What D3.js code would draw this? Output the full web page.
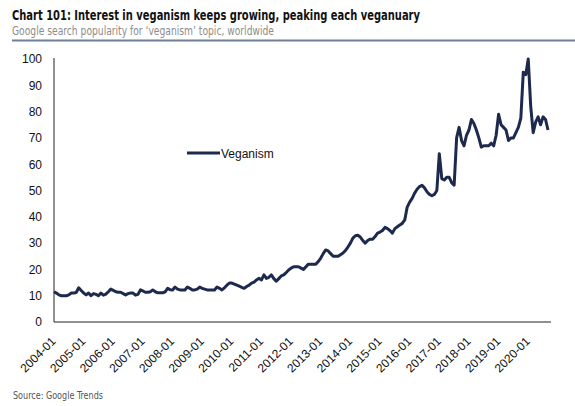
<!DOCTYPE html>
<html>
<head>
<meta charset="utf-8">
<script src="https://cdn.jsdelivr.net/npm/d3@7"></script>
<style>
  html, body { margin: 0; padding: 0; background: #fff; }
  svg { display: block; }
</style>
</head>
<body>
<svg id="chart" width="575" height="406"></svg>
<script>
// monthly Google Trends index, one array per year
const v2004 = [11.5, 11, 10.3, 10, 10, 10, 10.3, 11, 11, 11.2, 13, 12];
const v2005 = [11, 10.3, 11, 10, 10.8, 10.5, 10, 11, 10.2, 10.6, 11.5, 12.5];
const v2006 = [12, 11.5, 11.3, 11.3, 10.8, 10.3, 10.8, 11, 11, 10.2, 10.5, 12.2];
const v2007 = [11.8, 11.3, 11.3, 11.5, 12.2, 11.5, 11.1, 11.1, 11.1, 11.5, 12.8, 12.3];
const v2008 = [12.2, 13.3, 12.5, 12.2, 12.2, 12.2, 13.3, 12.8, 12.2, 12.2, 12.5, 13.3];
const v2009 = [12.8, 12.5, 12.2, 12.2, 12.2, 12.2, 13.3, 12.8, 12.2, 13, 14, 14.8];
const v2010 = [14.8, 14.4, 14, 13.6, 13.2, 12.8, 13.5, 14, 14.8, 15.2, 16, 16.6];
const v2011 = [16, 17.9, 16.6, 17, 17.9, 16.5, 15.5, 16.5, 17.5, 17.9, 18.8, 19.8];
const v2012 = [20.5, 21, 21, 21, 20.5, 20, 21, 22, 22, 22, 22, 23];
const v2013 = [24.3, 26, 27.4, 27, 26, 25, 25, 25, 25.6, 26.2, 27.2, 28.5];
const v2014 = [30, 31.9, 32.8, 33, 32.3, 31, 30, 31, 31.5, 31.5, 32.5, 33.8];
const v2015 = [34.2, 34.8, 36, 35.5, 34.8, 33.8, 35.5, 36.2, 36.9, 37.5, 38.8, 43.7];
const v2016 = [45.6, 47, 49, 50.5, 51.5, 52, 51, 49.5, 48.5, 48, 48.5, 50];
const v2017 = [64, 54.5, 54, 55, 55, 53, 52, 70, 74, 69, 67, 71];
const v2018 = [73, 77, 75.5, 73, 70, 66.5, 67, 67, 67, 68, 67, 71];
const v2019 = [79, 75, 74, 73, 69, 70, 70, 72, 74, 77.5, 95, 94];
const v2020 = [100, 82, 72, 76, 78, 75, 78, 77, 73];

const yearly = [v2004, v2005, v2006, v2007, v2008, v2009, v2010, v2011, v2012,
                v2013, v2014, v2015, v2016, v2017, v2018, v2019, v2020];
const firstYear = 2004;

const tickLabels = ["2004-01", "2005-01", "2006-01", "2007-01", "2008-01", "2009-01",
  "2010-01", "2011-01", "2012-01", "2013-01", "2014-01", "2015-01", "2016-01",
  "2017-01", "2018-01", "2019-01", "2020-01"];
const yTicks = [0, 10, 20, 30, 40, 50, 60, 70, 80, 90, 100];
const seriesName = "Veganism";

// flatten into {month, value}
let data = [];
yearly.forEach((vals, i) => {
  vals.forEach((v, m) => {
    data.push({ month: `${firstYear + i}-${String(m + 1).padStart(2, "0")}`, value: v });
  });
});

const svg = d3.select("#chart");
const navy = "#1d2a4d";
const axisFont = "'Liberation Sans', Arial, sans-serif";
const narrowFont = "'Liberation Sans Narrow', 'DejaVu Sans Condensed', sans-serif";

// header - the original uses a condensed face, so squeeze to its width
svg.append("text")
  .attr("x", 12).attr("y", 20)
  .attr("textLength", 408).attr("lengthAdjust", "spacingAndGlyphs")
  .style("font-family", narrowFont).style("font-weight", "bold")
  .style("font-size", "14.5px").style("fill", "#111")
  .text("Chart 101: Interest in veganism keeps growing, peaking each veganuary");

svg.append("text")
  .attr("x", 12).attr("y", 35)
  .attr("textLength", 262).attr("lengthAdjust", "spacingAndGlyphs")
  .style("font-family", narrowFont)
  .style("font-size", "12px").style("fill", "#8c8c8c")
  .text("Google search popularity for \u2018veganism\u2019 topic, worldwide");

svg.append("line")
  .attr("x1", 12).attr("x2", 575).attr("y1", 40.5).attr("y2", 40.5)
  .style("stroke", "#6e7f98").style("stroke-width", 2);

// scales
const xScale = d3.scalePoint()
  .domain(data.map(d => d.month))
  .range([54, 548]);

const yScale = d3.scaleLinear()
  .domain([0, 100])
  .range([322, 59]);

// y axis
const yAxis = svg.append("g")
  .attr("transform", "translate(54,0)")
  .call(d3.axisLeft(yScale).tickValues(yTicks).tickSize(0).tickPadding(12));
yAxis.select(".domain")
  .attr("d", `M0,${yScale(0)}V${yScale(100) - 1}`)
  .style("stroke", "#222");
yAxis.selectAll("text")
  .style("font-family", axisFont).style("font-size", "12px").style("fill", "#111");

// x axis
const xAxis = svg.append("g")
  .attr("transform", `translate(0,${yScale(0)})`)
  .call(d3.axisBottom(xScale).tickValues(tickLabels).tickSize(0).tickSizeOuter(0));
xAxis.select(".domain")
  .attr("d", `M54,0H${xScale.range()[1] + 3}`)
  .style("stroke", "#222");
xAxis.selectAll("text")
  .attr("x", 0).attr("y", 0).attr("dy", 0)
  .attr("transform", "translate(2,20) rotate(-45)")
  .style("text-anchor", "end")
  .style("font-family", axisFont).style("font-size", "12px").style("fill", "#111");

// the line
const line = d3.line()
  .x(d => xScale(d.month))
  .y(d => yScale(d.value));

svg.append("path")
  .datum(data)
  .attr("d", line)
  .style("fill", "none")
  .style("stroke", navy)
  .style("stroke-width", 3)
  .style("stroke-linejoin", "round");

// legend
const legend = svg.append("g").attr("transform", "translate(187,153)");
legend.append("line")
  .attr("x1", 0).attr("x2", 33).attr("y1", 0).attr("y2", 0)
  .style("stroke", navy).style("stroke-width", 3);
legend.append("text")
  .attr("x", 34).attr("y", 4.5)
  .style("font-family", axisFont).style("font-size", "12px").style("fill", "#111")
  .text(seriesName);

// source
svg.append("text")
  .attr("x", 13).attr("y", 399)
  .attr("textLength", 90).attr("lengthAdjust", "spacingAndGlyphs")
  .style("font-family", narrowFont)
  .style("font-size", "11px").style("fill", "#555")
  .text("Source: Google Trends");
</script>
</body>
</html>
